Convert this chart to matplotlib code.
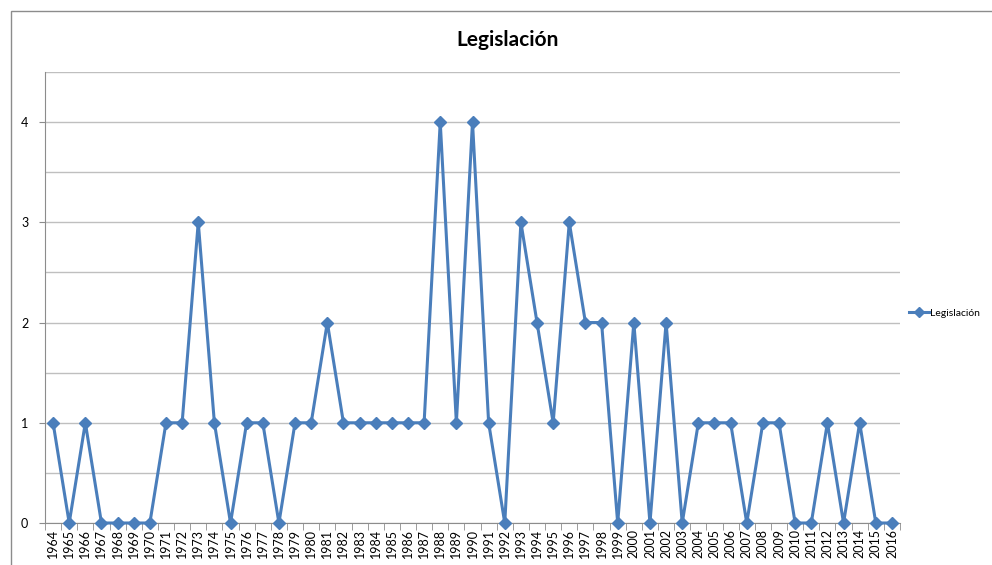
import matplotlib
matplotlib.use("Agg")
import matplotlib.pyplot as plt
from matplotlib.patches import Rectangle
from matplotlib.ticker import MultipleLocator, FixedLocator

# Datos: número de leyes por año
anios = [str(a) for a in range(1964, 2017)]
legislacion = [1, 0, 1, 0, 0, 0, 0, 1, 1, 3, 1, 0, 1, 1, 0, 1, 1, 2, 1, 1,
               1, 1, 1, 1, 4, 1, 4, 1, 0, 3, 2, 1, 3, 2, 2, 0, 2, 0, 2, 0,
               1, 1, 1, 0, 1, 1, 0, 0, 1, 0, 1, 0, 0]

AZUL = "#4a7ebb"
GRIS = "#bfbfbf"

plt.rcParams["font.family"] = ["Lato", "DejaVu Sans"]

fig = plt.figure(figsize=(9.92, 5.65), dpi=100)
W, H = 992, 565

# marco exterior del gráfico
fig.patches.append(Rectangle((11 / W, -0.1), 1.2, 1 - 11 / H + 0.1,
                             transform=fig.transFigure, fill=False,
                             edgecolor="#8c8c8c", linewidth=1.0))

ax = fig.add_axes([45 / W, 1 - 523 / H, (900 - 45) / W, (523 - 72) / H])

x = list(range(len(anios)))
ax.plot(x, legislacion, color=AZUL, linewidth=2.2, marker="D",
        markersize=6.5, label="Legislación", zorder=3, clip_on=False)

ax.set_xlim(-0.5, len(anios) - 0.5)
ax.set_ylim(0, 4.5)

# rejilla cada 0.5, etiquetas sólo en enteros
ax.yaxis.set_minor_locator(MultipleLocator(0.5))
ax.set_yticks([0, 1, 2, 3, 4])
ax.grid(axis="y", which="both", color=GRIS, linewidth=1.0)
ax.set_axisbelow(True)
ax.tick_params(axis="y", which="major", length=4, color="#8c8c8c",
               labelsize=9, pad=8)
ax.tick_params(axis="y", which="minor", length=0)

ax.set_xticks(x)
ax.set_xticklabels(anios, rotation=90, fontsize=9)
ax.xaxis.set_minor_locator(FixedLocator([i - 0.5 for i in range(len(anios) + 1)]))
ax.tick_params(axis="x", which="major", length=0, pad=4)
ax.tick_params(axis="x", which="minor", length=5, color="#8c8c8c")

for lado in ["top", "right"]:
    ax.spines[lado].set_visible(False)
ax.spines["left"].set_color("#8c8c8c")
ax.spines["bottom"].set_color("#8c8c8c")

fig.text(508 / W, 1 - 40 / H, "Legislación", ha="center", va="center",
         fontsize=15, fontweight="bold")

fig.legend(loc="center left", bbox_to_anchor=(908 / W, 1 - 313 / H),
           frameon=False, fontsize=7.5, handlelength=1.9, handletextpad=0.1,
           markerscale=0.8, borderpad=0.1, borderaxespad=0.0)

fig.savefig("out.png", dpi=100)
